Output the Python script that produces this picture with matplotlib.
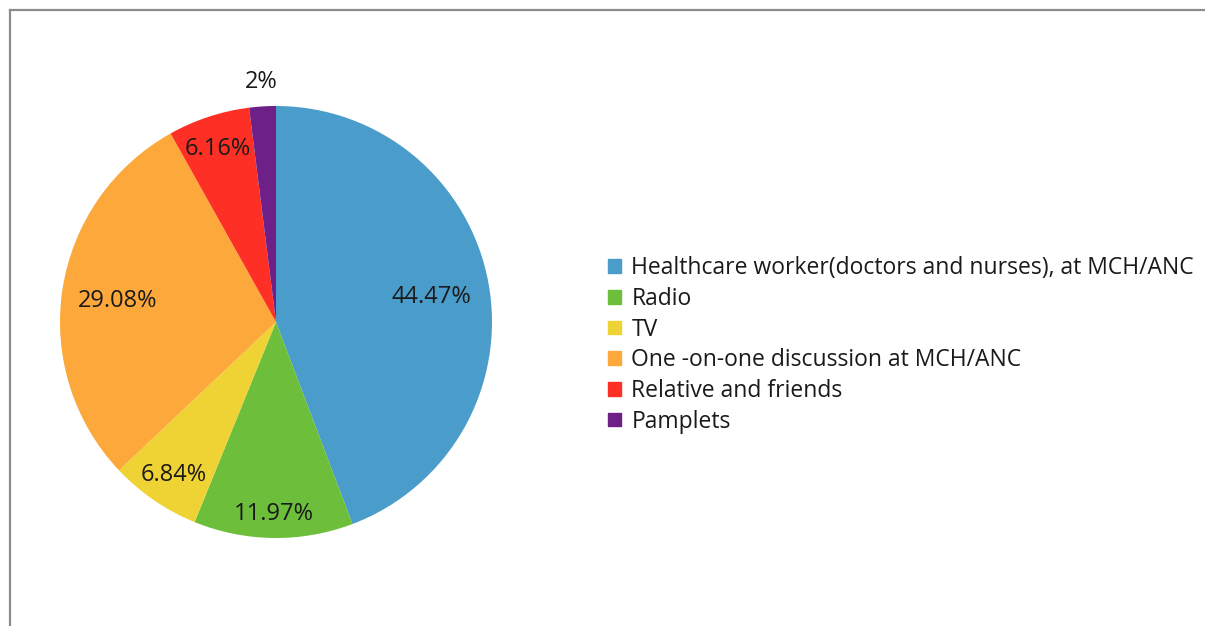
import numpy as np
import matplotlib.pyplot as plt
from matplotlib.lines import Line2D

plt.rcParams['font.family'] = ['Open Sans', 'DejaVu Sans']

fuentes = ["Healthcare worker(doctors and nurses), at MCH/ANC", "Radio", "TV",
           "One -on-one discussion at MCH/ANC", "Relative and friends", "Pamplets"]
porcentajes = [44.47, 11.97, 6.84, 29.08, 6.16, 2]
etiquetas = ["44.47%", "11.97%", "6.84%", "29.08%", "6.16%", "2%"]
colores = ["#4a9cca", "#6cbe3b", "#efd234", "#fca83b", "#fe3025", "#6d2087"]
# distancia radial de cada etiqueta (fracción del radio)
dist_etiqueta = [0.73, 0.875, 0.84, 0.74, 0.86, 1.13]

W, H = 1205, 626
fig = plt.figure(figsize=(W / 100, H / 100), dpi=100)

# pastel: centro (276, 322) px, radio 216 px
cx, cy, r = 276, 322, 216
ax = fig.add_axes([(cx - r) / W, (H - cy - r) / H, 2 * r / W, 2 * r / H])
wedges, _ = ax.pie(porcentajes, colors=colores, startangle=90, counterclock=False,
                   radius=1, wedgeprops=dict(linewidth=0))
ax.set_xlim(-1, 1)
ax.set_ylim(-1, 1)
ax.set_aspect('equal')
ax.axis('off')

for w, txt, d in zip(wedges, etiquetas, dist_etiqueta):
    ang = np.deg2rad((w.theta1 + w.theta2) / 2)
    ax.text(d * np.cos(ang), d * np.sin(ang) - 0.015, txt, ha='center', va='center',
            fontsize=17, color='#1a1a1a', clip_on=False)

handles = [plt.Rectangle((0, 0), 1, 1, color=c) for c in colores]
fig.legend(handles, fuentes, loc='center left', bbox_to_anchor=(597 / W, 1 - 345 / H),
           frameon=False, fontsize=16.5, handlelength=0.55, handleheight=0.55,
           handletextpad=0.45, labelspacing=0.29, borderpad=0, labelcolor='#1a1a1a')

# marco del gráfico (sólo borde superior e izquierdo visibles)
gris = '#8c8c8c'
fig.add_artist(Line2D([10 / W, 1.0], [1 - 10 / H, 1 - 10 / H], color=gris, lw=1.6,
                      transform=fig.transFigure))
fig.add_artist(Line2D([10 / W, 10 / W], [1 - 10 / H, 0.0], color=gris, lw=1.6,
                      transform=fig.transFigure))

fig.savefig('out.png', dpi=100, facecolor='white')
